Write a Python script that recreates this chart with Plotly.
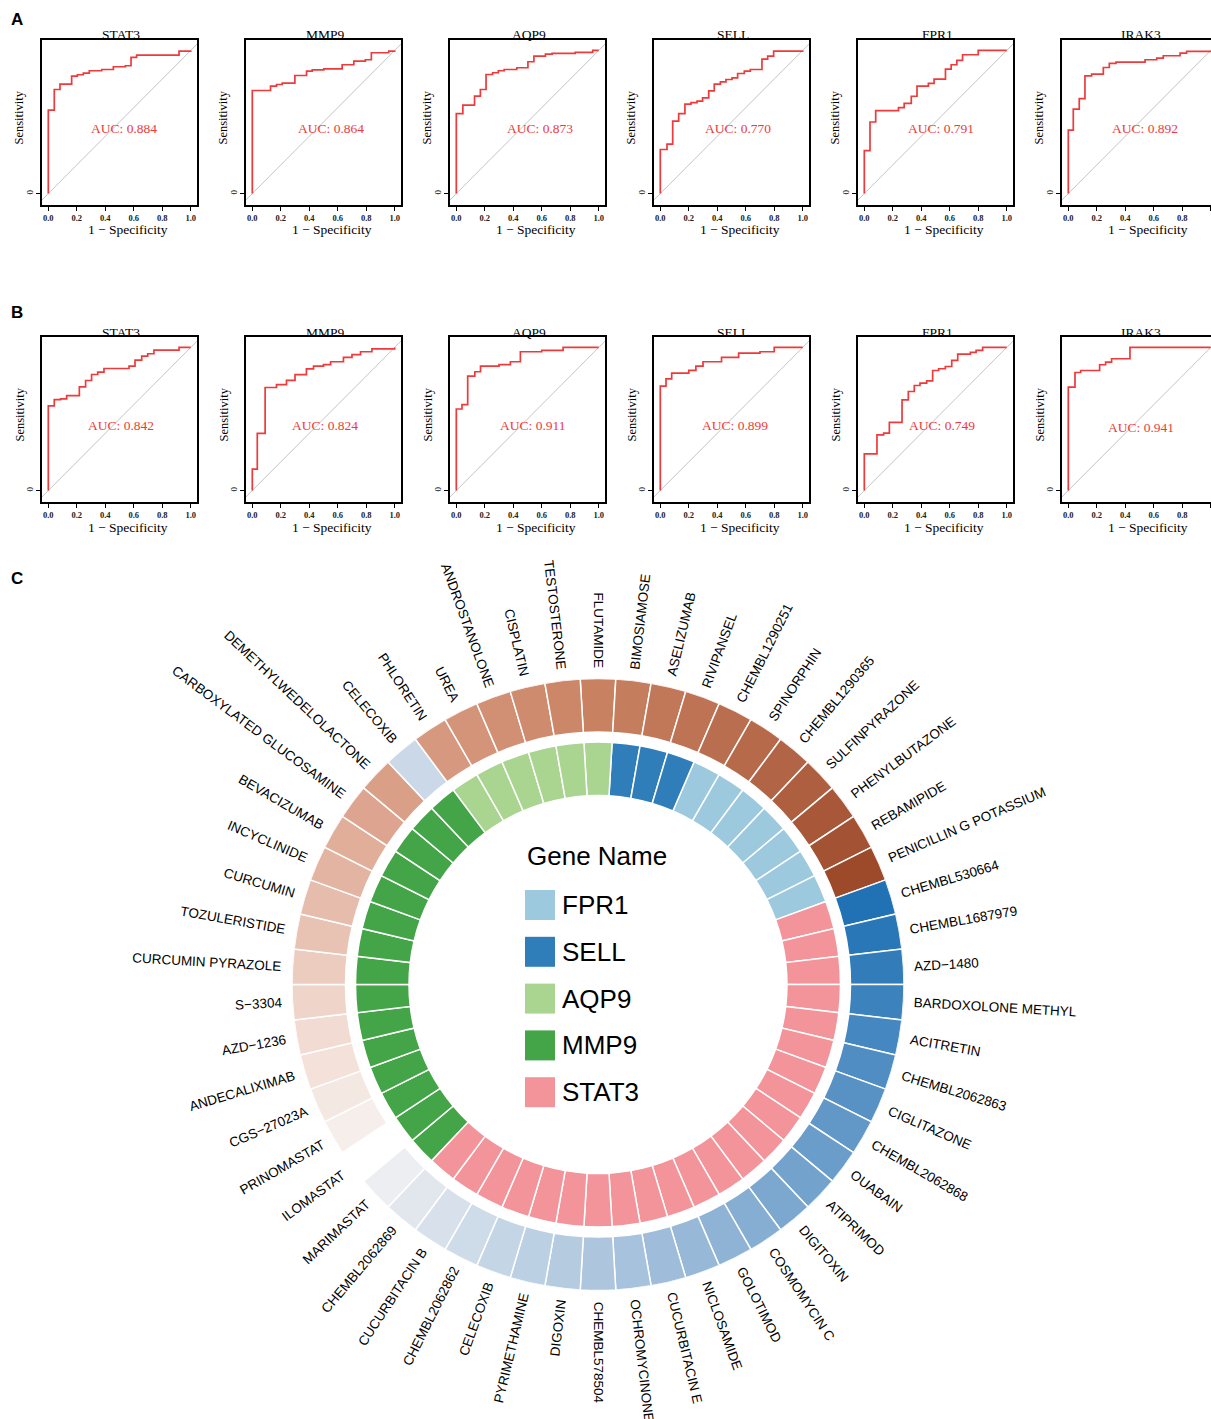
import math
import plotly.graph_objects as go

W, H = 1211, 1419

# ---------------- ROC data (1 - specificity, sensitivity step corners) ----------------
roc_genes = ["STAT3", "MMP9", "AQP9", "SELL", "FPR1", "IRAK3"]
auc_A = ["0.884", "0.864", "0.873", "0.770", "0.791", "0.892"]
auc_B = ["0.842", "0.824", "0.911", "0.899", "0.749", "0.941"]

fpr_A_STAT3 = [0, 0, 0.042, 0.082, 0.164, 0.204, 0.246, 0.288, 0.375, 0.457, 0.541, 0.581, 0.62, 0.918, 1.0]
tpr_A_STAT3 = [0, 0.583, 0.727, 0.765, 0.82, 0.83, 0.841, 0.858, 0.867, 0.886, 0.893, 0.951, 0.967, 0.995, 1.0]
fpr_A_MMP9 = [0, 0, 0.128, 0.17, 0.21, 0.299, 0.381, 0.421, 0.502, 0.631, 0.713, 0.794, 0.836, 0.958, 1.0]
tpr_A_MMP9 = [0, 0.72, 0.75, 0.762, 0.771, 0.825, 0.855, 0.864, 0.871, 0.9, 0.925, 0.935, 0.984, 0.995, 1.0]
fpr_A_AQP9 = [0, 0, 0.046, 0.128, 0.169, 0.209, 0.255, 0.295, 0.336, 0.425, 0.503, 0.545, 0.626, 0.673, 0.835, 0.958, 1.0]
tpr_A_AQP9 = [0, 0.559, 0.618, 0.681, 0.727, 0.832, 0.844, 0.858, 0.867, 0.879, 0.921, 0.96, 0.974, 0.979, 0.986, 1.0, 1.0]
fpr_A_SELL = [0, 0, 0.047, 0.087, 0.129, 0.173, 0.215, 0.258, 0.297, 0.34, 0.379, 0.422, 0.461, 0.504, 0.543, 0.59, 0.632, 0.714, 0.754, 0.796, 1.0]
tpr_A_SELL = [0, 0.308, 0.345, 0.506, 0.559, 0.625, 0.636, 0.646, 0.669, 0.718, 0.765, 0.781, 0.797, 0.809, 0.839, 0.855, 0.867, 0.939, 0.96, 0.995, 1.0]
fpr_A_FPR1 = [0, 0, 0.04, 0.08, 0.24, 0.28, 0.33, 0.37, 0.45, 0.49, 0.57, 0.61, 0.65, 0.69, 0.8, 1.0]
tpr_A_FPR1 = [0, 0.3, 0.5, 0.58, 0.6, 0.63, 0.68, 0.75, 0.77, 0.8, 0.87, 0.9, 0.93, 0.97, 1.0, 1.0]
fpr_A_IRAK3 = [0, 0, 0.035, 0.077, 0.117, 0.164, 0.246, 0.288, 0.335, 0.539, 0.621, 0.667, 0.785, 0.831, 1.0]
tpr_A_IRAK3 = [0, 0.443, 0.59, 0.664, 0.823, 0.834, 0.881, 0.909, 0.918, 0.935, 0.946, 0.963, 0.981, 0.993, 1.0]

fpr_B_STAT3 = [0, 0, 0.042, 0.087, 0.129, 0.218, 0.262, 0.304, 0.347, 0.391, 0.567, 0.609, 0.656, 0.698, 0.742, 0.918, 1.0]
tpr_B_STAT3 = [0, 0.592, 0.636, 0.641, 0.664, 0.725, 0.769, 0.811, 0.827, 0.853, 0.869, 0.911, 0.939, 0.956, 0.981, 1.0, 1.0]
fpr_B_MMP9 = [0, 0, 0.035, 0.09, 0.17, 0.24, 0.3, 0.38, 0.43, 0.5, 0.55, 0.64, 0.7, 0.76, 0.84, 1.0]
tpr_B_MMP9 = [0, 0.15, 0.4, 0.72, 0.74, 0.77, 0.81, 0.85, 0.87, 0.88, 0.9, 0.93, 0.95, 0.97, 0.99, 1.0]
fpr_B_AQP9 = [0, 0, 0.04, 0.08, 0.13, 0.17, 0.3, 0.38, 0.45, 0.6, 0.75, 1.0]
tpr_B_AQP9 = [0, 0.57, 0.6, 0.8, 0.83, 0.87, 0.88, 0.9, 0.97, 0.98, 1.0, 1.0]
fpr_B_SELL = [0, 0, 0.04, 0.08, 0.2, 0.25, 0.3, 0.43, 0.55, 0.7, 0.8, 1.0]
tpr_B_SELL = [0, 0.73, 0.78, 0.82, 0.84, 0.87, 0.9, 0.93, 0.96, 0.97, 1.0, 1.0]
fpr_B_FPR1 = [0, 0, 0.089, 0.136, 0.176, 0.265, 0.309, 0.351, 0.391, 0.438, 0.48, 0.522, 0.569, 0.614, 0.656, 0.745, 0.785, 0.831, 1.0]
tpr_B_FPR1 = [0, 0.256, 0.389, 0.401, 0.476, 0.634, 0.692, 0.734, 0.75, 0.767, 0.839, 0.851, 0.867, 0.909, 0.953, 0.965, 0.979, 1.0, 1.0]
fpr_B_IRAK3 = [0, 0, 0.047, 0.087, 0.22, 0.262, 0.304, 0.433, 1.0]
tpr_B_IRAK3 = [0, 0.723, 0.825, 0.839, 0.879, 0.897, 0.921, 1.0, 1.0]

roc_A = [(fpr_A_STAT3, tpr_A_STAT3), (fpr_A_MMP9, tpr_A_MMP9), (fpr_A_AQP9, tpr_A_AQP9),
         (fpr_A_SELL, tpr_A_SELL), (fpr_A_FPR1, tpr_A_FPR1), (fpr_A_IRAK3, tpr_A_IRAK3)]
roc_B = [(fpr_B_STAT3, tpr_B_STAT3), (fpr_B_MMP9, tpr_B_MMP9), (fpr_B_AQP9, tpr_B_AQP9),
         (fpr_B_SELL, tpr_B_SELL), (fpr_B_FPR1, tpr_B_FPR1), (fpr_B_IRAK3, tpr_B_IRAK3)]

# ---------------- Drug / gene circle data ----------------
drugs = ["FLUTAMIDE", "BIMOSIAMOSE", "ASELIZUMAB", "RIVIPANSEL", "CHEMBL1290251", "SPINORPHIN",
         "CHEMBL1290365", "SULFINPYRAZONE", "PHENYLBUTAZONE", "REBAMIPIDE", "PENICILLIN G POTASSIUM",
         "CHEMBL530664", "CHEMBL1687979", "AZD\u22121480", "BARDOXOLONE METHYL", "ACITRETIN",
         "CHEMBL2062863", "CIGLITAZONE", "CHEMBL2062868", "OUABAIN", "ATIPRIMOD", "DIGITOXIN",
         "COSMOMYCIN C", "GOLOTIMOD", "NICLOSAMIDE", "CUCURBITACIN E", "OCHROMYCINONE", "CHEMBL578504",
         "DIGOXIN", "PYRIMETHAMINE", "CELECOXIB", "CHEMBL2062862", "CUCURBITACIN B", "CHEMBL2062869",
         "MARIMASTAT", "ILOMASTAT", "PRINOMASTAT", "CGS\u221227023A", "ANDECALIXIMAB", "AZD\u22121236",
         "S\u22123304", "CURCUMIN PYRAZOLE", "TOZULERISTIDE", "CURCUMIN", "INCYCLINIDE", "BEVACIZUMAB",
         "CARBOXYLATED GLUCOSAMINE", "DEMETHYLWEDELOLACTONE", "CELECOXIB", "PHLORETIN", "UREA",
         "ANDROSTANOLONE", "CISPLATIN", "TESTOSTERONE"]
drug_gene = (["AQP9"] + ["SELL"] * 3 + ["FPR1"] * 7 + ["STAT3"] * 23 + ["MMP9"] * 15 + ["AQP9"] * 5)
drug_score = [0.64, 0.67, 0.70, 0.73, 0.76, 0.79, 0.82, 0.86, 0.90, 0.94, 0.99,
              -1.0, -0.96, -0.92, -0.88, -0.84, -0.80, -0.76, -0.72, -0.68, -0.64, -0.60,
              -0.56, -0.52, -0.48, -0.44, -0.40, -0.37, -0.33, -0.29, -0.25, -0.20, -0.15, -0.10,
              -0.05, 0.0, 0.04, 0.08, 0.12, 0.16, 0.20, 0.24, 0.28, 0.31, 0.35, 0.38,
              0.42, 0.45, -0.22, 0.49, 0.52, 0.55, 0.58, 0.61]
legend_genes = ["FPR1", "SELL", "AQP9", "MMP9", "STAT3"]

# ---------------- styles ----------------
gene_colors = {"FPR1": "#9DC9DF", "SELL": "#2F7EBA", "AQP9": "#A9D591", "MMP9": "#44A548", "STAT3": "#F3939A"}
score_scale = [[0.0, "#2171B5"], [0.25, "#93B6D6"], [0.45, "#E2E7EE"], [0.475, "#EDEEF1"],
               [0.5, "#FFFFFF"], [0.52, "#F6EEEB"], [0.6, "#EFD4C9"], [0.725, "#DA9F87"],
               [0.82, "#C88262"], [1.0, "#9C4829"]]
RED = "rgb(238,58,58)"
SERIF = "Liberation Serif, Times New Roman, serif"
SANS = "Liberation Sans, Arial, sans-serif"


def px(x):
    return x / W


def py(y):
    return 1 - y / H


fig = go.Figure()
annotations = []

# ---------------- ROC panels ----------------
auc_pos_A = [(0.535, 0.455), (0.552, 0.455), (0.586, 0.455), (0.546, 0.455), (0.54, 0.455), (0.539, 0.455)]
auc_pos_B = [(0.512, 0.452), (0.51, 0.452), (0.54, 0.452), (0.527, 0.452), (0.547, 0.455), (0.513, 0.441)]
rows = [(40, 205, roc_A, auc_A, auc_pos_A), (337, 502, roc_B, auc_B, auc_pos_B)]
layout_axes = {}
k = 0
for r, (top, bot, rocs, aucs, apos) in enumerate(rows):
    for c in range(6):
        k += 1
        left = 42 + 204 * c
        right = min(left + 155, W)
        xname = "x" if k == 1 else f"x{k}"
        yname = "y" if k == 1 else f"y{k}"
        xr = [-6.3 / 142.4, (right - left - 6.3) / 142.4]
        layout_axes["xaxis" if k == 1 else f"xaxis{k}"] = dict(
            domain=[px(left), px(right)], range=xr, anchor=yname,
            tickvals=[0, 0.2, 0.4, 0.6, 0.8, 1.0],
            ticktext=["<b>0.0</b>", "<b>0.2</b>", "<b>0.4</b>", "<b>0.6</b>", "<b>0.8</b>", "<b>1.0</b>"],
            ticks="outside", ticklen=4, tickwidth=1, tickcolor="black",
            showline=True, linewidth=1.8, linecolor="black", mirror=True,
            showgrid=False, zeroline=False, fixedrange=True,
            tickfont=dict(family=SERIF, size=8.5, color="#222"))
        layout_axes["yaxis" if k == 1 else f"yaxis{k}"] = dict(
            domain=[py(bot), py(top)], range=[-0.08, 1.073], anchor=xname,
            tickvals=[0], ticktext=["0"], tickangle=-90,
            ticks="outside", ticklen=4, tickwidth=1, tickcolor="black",
            showline=True, linewidth=1.8, linecolor="black", mirror=(c < 5),
            showgrid=False, zeroline=False, fixedrange=True,
            tickfont=dict(family=SERIF, size=9, color="#111"))
        fig.add_trace(go.Scatter(x=[-0.2, 1.2], y=[-0.2, 1.2], mode="lines",
                                 line=dict(color="#C4C4C4", width=1), xaxis=xname, yaxis=yname,
                                 showlegend=False, hoverinfo="skip"))
        fpr, tpr = rocs[c]
        fig.add_trace(go.Scatter(x=fpr, y=tpr, mode="lines", line=dict(color=RED, width=1.7, shape="hv"),
                                 xaxis=xname, yaxis=yname, showlegend=False))
        annotations.append(dict(x=apos[c][0], y=apos[c][1], xref=xname, yref=yname,
                                text=f"AUC: {aucs[c]}", showarrow=False,
                                font=dict(family=SERIF, size=13.5, color=RED),
                                xanchor="center", yanchor="middle"))
        annotations.append(dict(x=px(left + 79), y=py(top - 5), xref="paper", yref="paper",
                                text=roc_genes[c], showarrow=False,
                                font=dict(family=SERIF, size=13.5, color="black"),
                                xanchor="center", yanchor="middle"))
        annotations.append(dict(x=px(left + 86), y=py(bot + 25), xref="paper", yref="paper",
                                text="1 \u2212 Specificity", showarrow=False,
                                font=dict(family=SERIF, size=13.5, color="black"),
                                xanchor="center", yanchor="middle"))
        annotations.append(dict(x=px(left - 23), y=py((top + bot) / 2 - 5), xref="paper", yref="paper",
                                text="Sensitivity", showarrow=False, textangle=-90,
                                font=dict(family=SERIF, size=12.5, color="black"),
                                xanchor="center", yanchor="middle"))

for lab, yy in [("A", 20), ("B", 312), ("C", 578)]:
    annotations.append(dict(x=px(17), y=py(yy), xref="paper", yref="paper", text=f"<b>{lab}</b>",
                            showarrow=False, font=dict(family=SANS, size=17, color="black"),
                            xanchor="center", yanchor="middle"))

# ---------------- circular chart ----------------
cx, cy, R = 598, 984.5, 306
n = len(drugs)
step = 360 / n
thetas = [i * step for i in range(n)]

for g in legend_genes:
    th = [thetas[i] for i in range(n) if drug_gene[i] == g]
    fig.add_trace(go.Barpolar(theta=th, r=[53.5] * len(th), base=189, width=step,
                              marker=dict(color=gene_colors[g], line=dict(color="white", width=1.5)),
                              subplot="polar", showlegend=False, name=g))

fig.add_trace(go.Barpolar(theta=thetas, r=[53.5] * n, base=252.5, width=step,
                          marker=dict(color=drug_score, colorscale=score_scale, cmin=-1, cmax=1,
                                      showscale=False, line=dict(color="white", width=1.5)),
                          subplot="polar", showlegend=False, text=drugs))

for i, name in enumerate(drugs):
    phi = thetas[i]
    rad = math.radians(phi)
    rl = 317
    ax = cx + rl * math.sin(rad)
    ay = cy - rl * math.cos(rad)
    hidden = f'<span style="color:rgba(0,0,0,0)">{name}</span>'
    if 0 < phi <= 180:
        ang = phi - 90
        txt = hidden + name
    else:
        ang = phi - 270
        if ang < -180:
            ang += 360
        txt = name + hidden
    annotations.append(dict(x=px(ax), y=py(ay), xref="paper", yref="paper", text=txt,
                            textangle=ang, showarrow=False, xanchor="center", yanchor="middle",
                            font=dict(family=SANS, size=13.5, color="black")))

# legend in the centre
annotations.append(dict(x=px(525), y=py(856), xref="paper", yref="paper", text="Gene Name",
                        showarrow=False, xanchor="left", yanchor="middle",
                        font=dict(family=SANS, size=26, color="black")))
shapes = []
for j, g in enumerate(legend_genes):
    yc = 905 + 46.8 * j
    shapes.append(dict(type="rect", xref="paper", yref="paper", x0=px(525), x1=px(555),
                       y0=py(yc + 15), y1=py(yc - 15), fillcolor=gene_colors[g], line=dict(width=0)))
    annotations.append(dict(x=px(560), y=py(yc), xref="paper", yref="paper", text=g,
                            showarrow=False, xanchor="left", yanchor="middle",
                            font=dict(family=SANS, size=26, color="black")))

fig.update_layout(
    width=W, height=H, autosize=False, margin=dict(l=0, r=0, t=0, b=0),
    paper_bgcolor="white", plot_bgcolor="white",
    polar=dict(domain=dict(x=[px(cx - R), px(cx + R)], y=[py(cy + R), py(cy - R)]),
               bgcolor="rgba(0,0,0,0)", hole=0,
               radialaxis=dict(range=[0, R], visible=False),
               angularaxis=dict(visible=False, rotation=90, direction="clockwise")),
    annotations=annotations, shapes=shapes, **layout_axes)

fig.write_html("out.html")
